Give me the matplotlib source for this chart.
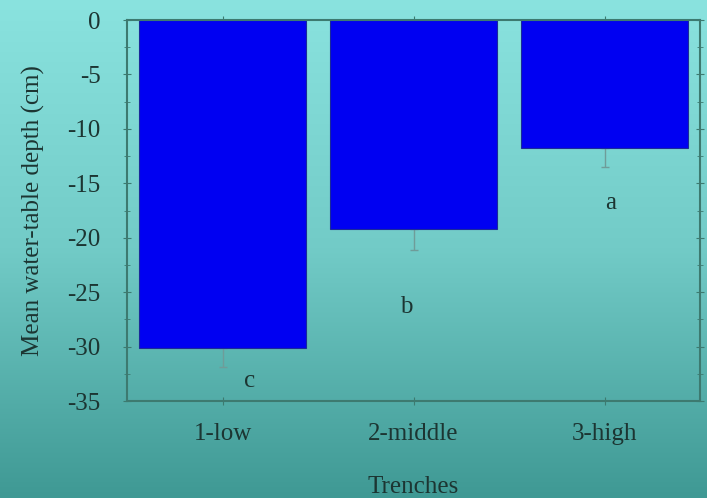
import numpy as np
import matplotlib
matplotlib.use("Agg")
import matplotlib.pyplot as plt
from matplotlib.colors import LinearSegmentedColormap
from matplotlib.ticker import MultipleLocator

trenches = ["1-low", "2-middle", "3-high"]
depth = [-30.1, -19.2, -11.8]   # mean water-table depth (cm)
err = [1.8, 1.9, 1.7]           # standard error, drawn downward only
letters = ["c", "b", "a"]
letter_pos = [(0.14, -33.7), (0.96, -26.9), (2.03, -17.4)]

plt.rcParams["font.family"] = ["Liberation Serif", "DejaVu Serif"]
plt.rcParams["axes.unicode_minus"] = False

fig = plt.figure(figsize=(7.07, 4.98), dpi=100)

# background gradient over the whole figure
bg = fig.add_axes([0, 0, 1, 1], zorder=-10)
cmap = LinearSegmentedColormap.from_list("bg", ["#8ae3df", "#72cbc7", "#3f9994"])
bg.imshow(np.linspace(0, 1, 256).reshape(-1, 1), aspect="auto", cmap=cmap,
          extent=[0, 1, 0, 1])
bg.axis("off")

ax = fig.add_axes([127 / 707, 1 - 401 / 498, (700 - 127) / 707, (401 - 20) / 498])
ax.patch.set_alpha(0)

txt = "#1c3532"
x = np.arange(len(trenches))
ax.bar(x, depth, width=0.87, color="#0000f2", edgecolor="#1a2a9a", linewidth=0.8, zorder=2)
ax.errorbar(x, depth, yerr=[err, [0, 0, 0]], fmt="none", ecolor="#6f9c99",
            elinewidth=1, capsize=3, zorder=1)

for t, (lx, ly) in zip(letters, letter_pos):
    ax.text(lx, ly, t, ha="center", va="baseline", fontsize=18, color=txt)

ax.set_xlim(-0.5, 2.5)
ax.set_ylim(-35, 0)
ax.set_xticks(x)
ax.set_xticklabels(trenches)
ax.yaxis.set_major_locator(MultipleLocator(5))
ax.yaxis.set_minor_locator(MultipleLocator(2.5))

spine_col = "#3d7a70"
for s in ax.spines.values():
    s.set_color(spine_col)
    s.set_linewidth(1.5)
ax.tick_params(axis="both", which="both", direction="inout", color=spine_col,
               labelsize=18, labelcolor=txt, top=True, right=True)
ax.tick_params(axis="both", which="major", length=6)
ax.tick_params(axis="both", which="minor", length=4)
ax.tick_params(axis="x", pad=13)
ax.tick_params(axis="y", pad=16)

ax.set_xlabel("Trenches", fontsize=18, color=txt, labelpad=22)
ax.set_ylabel("Mean water-table depth (cm)", fontsize=18, color=txt, labelpad=16)

fig.savefig("out.png", dpi=100)
